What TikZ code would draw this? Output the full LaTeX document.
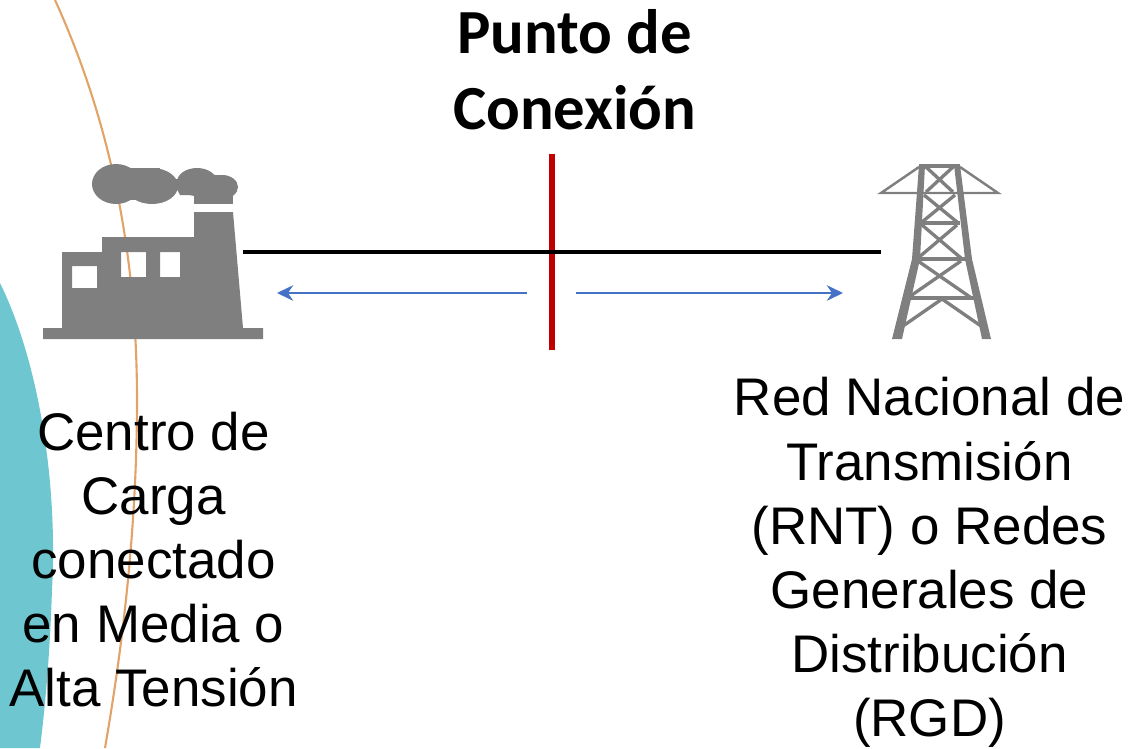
\documentclass[tikz,border=0pt]{standalone}
\usepackage{fontspec}
\setmainfont{Liberation Sans}
\newfontfamily\titlefont{Carlito}
\usetikzlibrary{arrows.meta}

\begin{document}
\begin{tikzpicture}[
    x=0.01cm, y=-0.01cm,
    every node/.style={inner sep=0pt, align=center, text=black},
    TitleShape/.style={font=\titlefont\bfseries\fontsize{17.85}{21.6}\selectfont, anchor=base},
    LabelShape/.style={font=\fontsize{15.05}{18.2}\selectfont, anchor=base},
    TowerBar/.style={draw=iconGray, line width=0.95pt},
    TowerArm/.style={draw=iconGray, line width=0.7pt},
    PowerLine/.style={draw=black, line width=1.15pt},
    ConnectionBar/.style={draw=barRed, line width=1.65pt},
    FlowArrow/.style={draw=flowBlue, line width=0.75pt, -{Stealth[length=4.6pt,width=4.4pt]}}
]
\definecolor{iconGray}{HTML}{7F7F7F}
\definecolor{barRed}{HTML}{C00000}
\definecolor{flowBlue}{HTML}{4472C4}
\definecolor{arcOrange}{HTML}{E2A368}
\definecolor{arcTeal}{HTML}{6EC6D0}

\useasboundingbox (0,0) rectangle (1130,748);

% background arcs
\begin{scope}
    \clip (0,0) rectangle (1130,748);
    \fill[arcTeal] (0,283) .. controls (38,360) and (58,480) .. (52,590)
        .. controls (50,650) and (46,700) .. (40,748) -- (0,748) -- cycle;
    \draw[arcOrange, line width=0.6pt] (55,0) .. controls (105,110) and (137,240) .. (137,400)
        .. controls (137,530) and (122,650) .. (105,748);
\end{scope}

% factory
\fill[iconGray, even odd rule] (43,328) -- (62,328) -- (62,252) -- (102,252) -- (102,237)
    -- (194,237) -- (194,212) -- (233,212) -- (243,328) -- (263,328) -- (263,339) -- (43,339) -- cycle
    (72,266) rectangle (97,288)
    (121,252) rectangle (146,277)
    (160,252) rectangle (180,277);
\fill[iconGray] (194,190) rectangle (233,204);
% smoke
\fill[iconGray] (116,184) ellipse [x radius=24, y radius=20];
\fill[iconGray] (152,186) ellipse [x radius=26, y radius=18];
\fill[iconGray] (197,182) ellipse [x radius=20, y radius=14];
\fill[iconGray] (222,187) ellipse [x radius=16, y radius=12];
\fill[iconGray] (125,168) rectangle (160,200);
\fill[iconGray] (172,180) -- (205,174) -- (228,176) -- (228,195) -- (180,195) -- cycle;

% tower
\fill[iconGray] (919,165) -- (925,165) -- (920,259) -- (902,339) -- (892,339) -- (912,259) -- cycle;
\fill[iconGray] (954,165) -- (960,165) -- (972,259) -- (991,339) -- (982,339) -- (965,259) -- cycle;
\draw[TowerBar] (919,166) -- (960,166);
\draw[TowerArm] (960,167) -- (998,193) -- (881,193) -- (919,167);
\draw[TowerBar] (919,223) -- (960,223) (916,259) -- (966,259) (908,298) -- (975,298);
\draw[TowerBar] (926,167) -- (953,192) (953,167) -- (926,192);
\draw[TowerBar] (924,195) -- (957,222) (955,195) -- (922,222);
\draw[TowerBar] (922,225) -- (961,258) (957,225) -- (918,258);
\draw[TowerBar] (918,261) -- (970,297) (961,261) -- (909,297);
\draw[TowerBar] (942,299) -- (903,326) (942,299) -- (981,326);

% connection point
\coordinate (barTop) at (552,154);
\coordinate (barBottom) at (552,350);
\coordinate (factoryEnd) at (243,252);
\coordinate (towerEnd) at (881,252);
\coordinate (leftStart) at (527,293);
\coordinate (leftEnd) at (277,293);
\coordinate (rightStart) at (576,293);
\coordinate (rightEnd) at (843,293);
\draw[ConnectionBar] (barTop) -- (barBottom);
\draw[PowerLine] (factoryEnd) -- (towerEnd);
\draw[FlowArrow] (leftStart) -- (leftEnd);
\draw[FlowArrow] (rightStart) -- (rightEnd);

% labels
\node (title) [TitleShape] at (574.5,129) {Punto de\\Conexión};
\node (load) [LabelShape] at (153.5,706) {Centro de\\Carga\\conectado\\en Media o\\Alta Tensión};
\node (grid) [LabelShape] at (929.5,736) {Red Nacional de\\Transmisión\\(RNT) o Redes\\Generales de\\Distribución\\(RGD)};
\end{tikzpicture}
\end{document}
